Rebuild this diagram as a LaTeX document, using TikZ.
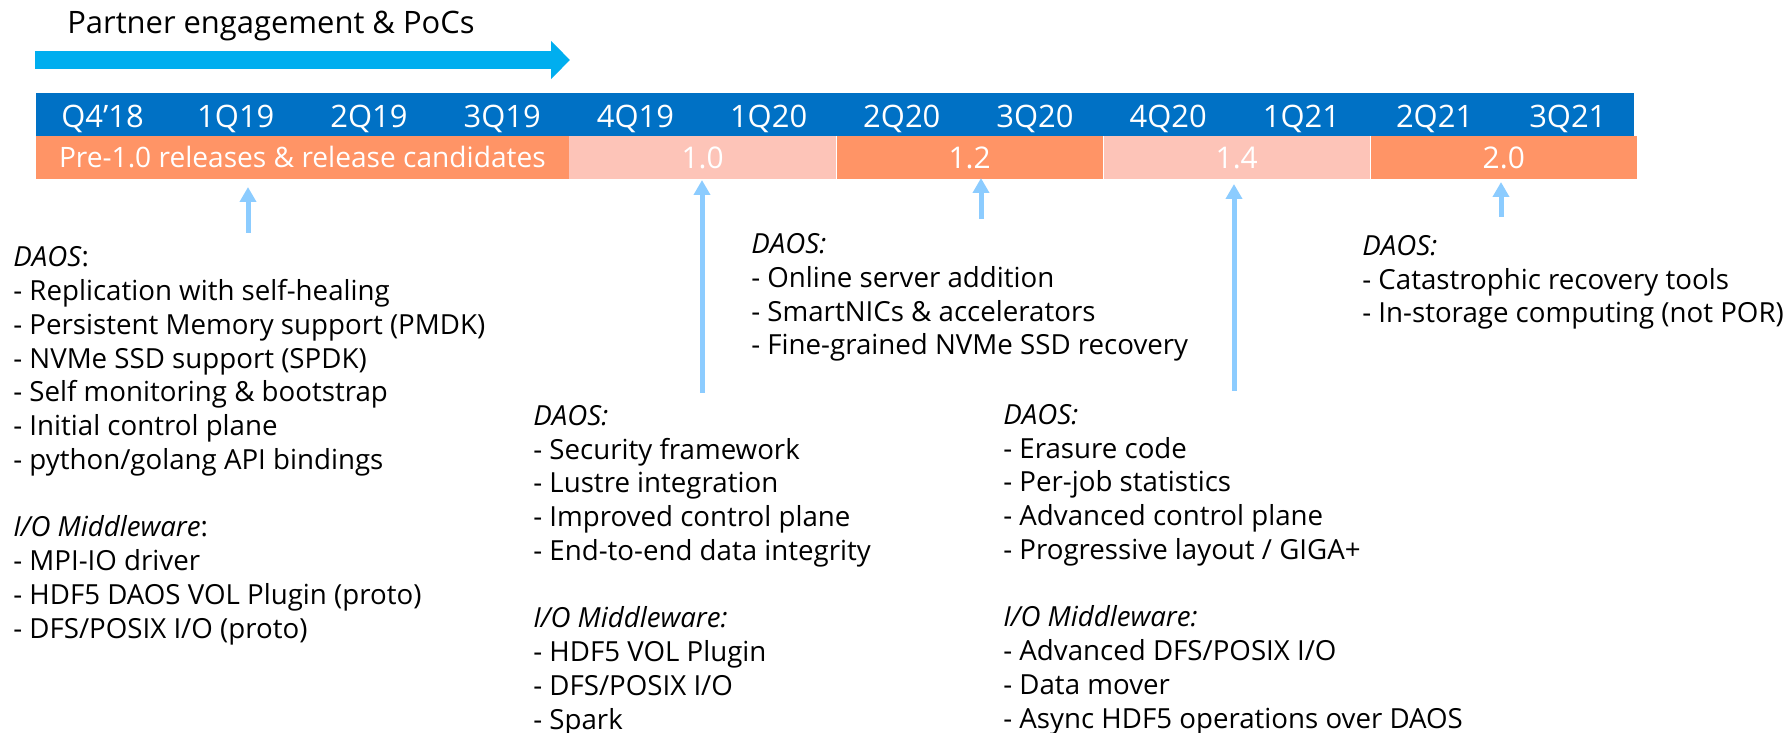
\documentclass[tikz,border=0pt]{standalone}
\usepackage{fontspec}
\setmainfont{Open Sans}
\usetikzlibrary{arrows.meta, positioning}
\definecolor{pocblue}{RGB}{0,174,239}
\definecolor{qblue}{RGB}{0,113,197}
\definecolor{reldark}{RGB}{255,148,102}
\definecolor{rellight}{RGB}{253,196,184}
\definecolor{tipblue}{RGB}{140,204,255}
\tikzset{
  quarter/.style={text=white, font=\fontsize{17.6}{20}\selectfont, anchor=base, inner sep=0pt},
  relseg/.style={minimum height=0.86cm, inner sep=0pt, text=white, font=\fontsize{17}{20}\selectfont, text height=12.2pt, text depth=0pt},
  featlist/.style={anchor=base west, align=left, inner sep=0pt, font=\fontsize{15.75}{19.2}\selectfont},
  mstone/.style={draw=tipblue, line width=1mm, -{Triangle[width=3.2mm,length=3mm]}}
}
\begin{document}
\begin{tikzpicture}[x=0.02cm,y=-0.02cm]
\useasboundingbox (0,0) rectangle (1783,733);
%partner arrow
\node[anchor=base west, inner sep=0pt, font=\fontsize{17.6}{20}\selectfont] (ptitle) at (67,34) {Partner engagement \& PoCs};
\coordinate (pstart) at (35,60);
\coordinate (pend) at (570,60);
\draw[pocblue, line width=3.6mm, -{Triangle[width=7.4mm,length=3.8mm]}] (pstart) -- (pend);
%quarter bar
\node[fill=qblue, minimum width=31.97cm, minimum height=0.86cm, inner sep=0pt] (qbar) at (835.2,114.5) {};
\foreach \q [count=\i] in {Q4’18,1Q19,2Q19,3Q19,4Q19,1Q20,2Q20,3Q20,4Q20,1Q21,2Q21,3Q21}
  \node[quarter] (q\i) at ({36+133.2*(\i-0.5)},128) {\q};
%release bar
\node[relseg, fill=reldark, minimum width=10.656cm, font=\fontsize{16}{20}\selectfont, text height=11.5pt] (pre) at (302.4,157.5) {Pre-1.0 releases \& release candidates};
\node[relseg, fill=rellight, minimum width=5.328cm, right=0pt of pre] (r10) {1.0};
\node[relseg, fill=reldark, minimum width=5.328cm, right=0pt of r10] (r12) {1.2};
\node[relseg, fill=rellight, minimum width=5.328cm, right=0pt of r12] (r14) {1.4};
\node[relseg, fill=reldark, minimum width=5.328cm, right=0pt of r14] (r20) {2.0};
%milestone arrows
\foreach \x/\yb/\yt [count=\i] in {248/233/187, 702/393/180, 981/219/178, 1234/391/184, 1501/217/182} {
  \coordinate (a\i) at (\x,\yb);
  \coordinate (t\i) at (\x,\yt);
  \draw[mstone] (a\i) -- (t\i);
}
%feature lists (anchored at the last line)
\node[featlist] (f1) at (13,638) {\textit{DAOS}:\\
- Replication with self-healing\\
- Persistent Memory support (PMDK)\\
- NVMe SSD support (SPDK)\\
- Self monitoring \& bootstrap\\
- Initial control plane\\
- python/golang API bindings\\[19.2pt]
\textit{I/O Middleware}:\\
- MPI-IO driver\\
- HDF5 DAOS VOL Plugin (proto)\\
- DFS/POSIX I/O (proto)};
\node[featlist] (f2) at (533,729) {\textit{DAOS:}\\
- Security framework\\
- Lustre integration\\
- Improved control plane\\
- End-to-end data integrity\\[19.2pt]
\textit{I/O Middleware:}\\
- HDF5 VOL Plugin\\
- DFS/POSIX I/O\\
- Spark};
\node[featlist] (f3) at (751,355) {\textit{DAOS:}\\
- Online server addition\\
- SmartNICs \& accelerators\\
- Fine-grained NVMe SSD recovery};
\node[featlist] (f4) at (1003,728) {\textit{DAOS:}\\
- Erasure code\\
- Per-job statistics\\
- Advanced control plane\\
- Progressive layout / GIGA+\\[19.2pt]
\textit{I/O Middleware:}\\
- Advanced DFS/POSIX I/O\\
- Data mover\\
- Async HDF5 operations over DAOS};
\node[featlist] (f5) at (1362,323) {\textit{DAOS:}\\
- Catastrophic recovery tools\\
- In-storage computing (not POR)};
\end{tikzpicture}
\end{document}
